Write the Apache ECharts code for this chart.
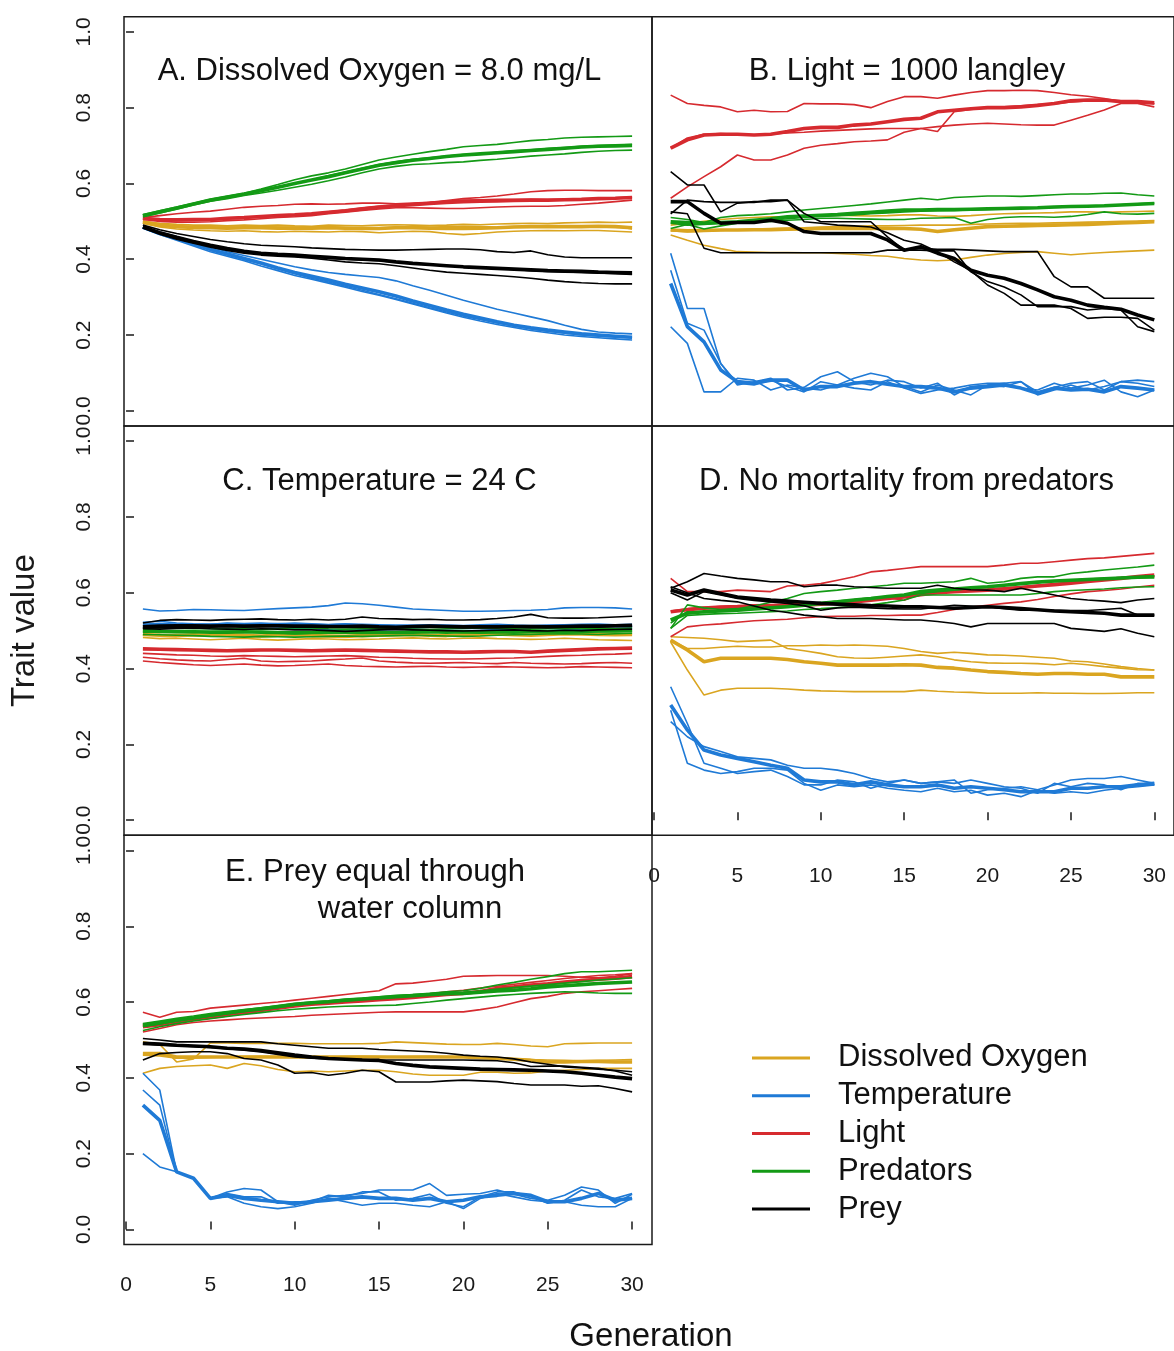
<!DOCTYPE html>
<html><head><meta charset="utf-8">
<script src="https://cdn.jsdelivr.net/npm/echarts@6/dist/echarts.min.js"></script>
<style>html,body{margin:0;padding:0;background:#fff}#c{width:1174px;height:1351px}</style>
</head><body><div id="c"></div>
<script>
// ---------------- DATA ----------------
const generations = [1,2,3,4,5,6,7,8,9,10,11,12,13,14,15,16,17,18,19,20,21,22,23,24,25,26,27,28,29,30];
const traitNames = ['Dissolved Oxygen','Temperature','Light','Predators','Prey'];
const panelTitles = ['A. Dissolved Oxygen = 8.0 mg/L','B. Light = 1000 langley','C. Temperature = 24 C','D. No mortality from predators','E. Prey equal through','water column'];
const xTickValues = [0,5,10,15,20,25,30];
const yTickValues = [0,0.2,0.4,0.6,0.8,1.0];
const xAxisTitle = 'Generation';
const yAxisTitle = 'Trait value';

// each trait array: [replicate 1, replicate 2, replicate 3, mean]
// Panel A
const A_oxygen = [
[.50,.495,.492,.49,.49,.488,.49,.489,.49,.488,.487,.49,.489,.488,.49,.491,.49,.489,.49,.492,.491,.493,.494,.495,.494,.496,.497,.498,.497,.498],
[.495,.485,.48,.477,.475,.474,.475,.473,.472,.474,.473,.472,.474,.473,.47,.472,.474,.473,.468,.465,.468,.472,.474,.475,.476,.475,.476,.476,.474,.472],
[.50,.49,.487,.485,.484,.485,.484,.486,.485,.484,.485,.486,.483,.482,.483,.485,.486,.484,.486,.487,.486,.485,.486,.487,.488,.487,.486,.488,.487,.48],
[.498,.49,.486,.484,.483,.482,.483,.483,.482,.482,.482,.483,.482,.481,.481,.483,.483,.482,.481,.481,.482,.483,.485,.486,.486,.486,.486,.487,.486,.483]];
const A_temperature = [
[.485,.472,.46,.447,.433,.42,.41,.40,.39,.38,.372,.365,.36,.356,.352,.343,.33,.318,.305,.292,.28,.268,.258,.248,.238,.226,.215,.208,.205,.203],
[.482,.465,.45,.435,.42,.408,.396,.382,.37,.357,.347,.337,.326,.315,.305,.294,.282,.27,.258,.247,.237,.228,.22,.212,.206,.20,.196,.193,.19,.187],
[.486,.468,.454,.44,.425,.413,.40,.388,.375,.362,.35,.34,.329,.318,.307,.296,.284,.272,.261,.25,.241,.232,.224,.216,.21,.205,.20,.197,.195,.192],
[.485,.468,.455,.44,.426,.414,.402,.39,.377,.365,.355,.345,.334,.324,.314,.303,.29,.278,.266,.255,.245,.235,.226,.219,.213,.208,.203,.20,.197,.194]];
const A_light = [
[.51,.515,.52,.524,.527,.532,.537,.54,.542,.545,.546,.545,.546,.548,.548,.546,.548,.55,.555,.56,.563,.567,.572,.578,.581,.582,.582,.581,.581,.581],
[.505,.50,.498,.498,.499,.502,.504,.507,.51,.512,.515,.52,.524,.529,.533,.536,.536,.535,.534,.534,.536,.538,.539,.54,.54,.542,.545,.548,.552,.556],
[.508,.504,.503,.503,.503,.506,.509,.512,.514,.516,.52,.525,.53,.535,.54,.543,.547,.55,.553,.556,.557,.558,.558,.558,.557,.558,.559,.56,.562,.564],
[.508,.505,.504,.505,.505,.508,.51,.513,.515,.517,.52,.524,.528,.533,.538,.541,.544,.547,.55,.552,.553,.554,.555,.556,.556,.557,.558,.56,.561,.563]];
const A_predators = [
[.518,.528,.538,.548,.558,.566,.574,.585,.597,.61,.62,.628,.638,.65,.662,.67,.677,.684,.69,.697,.70,.703,.708,.713,.716,.72,.722,.723,.724,.725],
[.512,.522,.532,.543,.553,.56,.568,.575,.582,.59,.598,.607,.617,.628,.638,.645,.65,.652,.655,.657,.661,.664,.668,.672,.675,.678,.682,.685,.687,.688],
[.516,.526,.536,.547,.557,.565,.573,.582,.591,.60,.61,.62,.63,.64,.65,.657,.664,.668,.672,.676,.678,.682,.686,.689,.692,.695,.698,.70,.702,.703],
[.515,.525,.535,.546,.556,.564,.572,.581,.59,.60,.609,.618,.628,.638,.648,.655,.661,.666,.671,.675,.678,.681,.684,.687,.69,.693,.696,.698,.699,.70]];
const A_prey = [
[.49,.478,.468,.46,.452,.446,.441,.437,.435,.433,.43,.428,.426,.425,.424,.424,.425,.426,.427,.427,.425,.42,.418,.422,.412,.406,.404,.404,.404,.404],
[.483,.466,.453,.442,.432,.423,.416,.411,.408,.406,.403,.398,.393,.39,.388,.383,.377,.371,.366,.363,.36,.357,.354,.35,.345,.341,.338,.336,.335,.335],
[.484,.468,.455,.444,.435,.426,.419,.414,.411,.409,.406,.403,.40,.398,.396,.392,.389,.386,.383,.38,.378,.375,.373,.37,.368,.366,.365,.364,.362,.36],
[.485,.47,.458,.447,.437,.428,.421,.416,.413,.411,.408,.405,.402,.40,.398,.393,.389,.386,.383,.38,.378,.376,.374,.372,.37,.369,.368,.366,.365,.364]];
// Panel B
const B_oxygen = [
[.49,.495,.50,.505,.508,.51,.512,.512,.513,.515,.516,.515,.514,.515,.517,.517,.514,.513,.515,.518,.52,.521,.522,.523,.525,.525,.524,.525,.526,.527],
[.464,.45,.437,.428,.42,.419,.418,.418,.417,.417,.415,.413,.41,.408,.402,.398,.396,.398,.405,.411,.415,.418,.42,.416,.412,.415,.418,.42,.422,.424],
[.475,.472,.474,.476,.478,.48,.481,.482,.483,.485,.486,.487,.488,.488,.489,.49,.49,.49,.492,.493,.494,.495,.495,.496,.497,.498,.499,.50,.501,.502],
[.477,.475,.476,.477,.477,.478,.478,.479,.48,.481,.481,.481,.481,.481,.481,.479,.473,.478,.482,.486,.487,.488,.489,.49,.491,.492,.494,.496,.497,.499]];
const B_temperature = [
[.416,.27,.27,.125,.068,.077,.086,.055,.062,.09,.103,.077,.068,.081,.077,.06,.073,.042,.064,.068,.073,.077,.05,.062,.073,.077,.055,.077,.081,.077],
[.371,.231,.213,.125,.073,.068,.081,.064,.05,.077,.068,.086,.099,.09,.064,.05,.068,.055,.042,.068,.064,.077,.042,.055,.068,.055,.064,.077,.073,.064],
[.222,.178,.05,.05,.086,.081,.055,.068,.06,.055,.068,.06,.055,.077,.06,.046,.055,.06,.068,.073,.073,.06,.055,.073,.06,.068,.081,.05,.037,.055],
[.336,.222,.182,.108,.077,.073,.081,.081,.055,.064,.064,.073,.077,.07,.064,.064,.06,.05,.06,.064,.068,.06,.046,.06,.055,.057,.05,.064,.06,.055]];
const B_light = [
[.833,.811,.806,.802,.789,.793,.789,.79,.811,.81,.81,.808,.80,.816,.829,.829,.825,.833,.84,.845,.845,.846,.845,.84,.834,.83,.824,.816,.815,.811],
[.693,.72,.73,.732,.73,.728,.73,.733,.735,.738,.74,.742,.744,.745,.745,.745,.737,.789,.795,.80,.802,.805,.808,.81,.815,.818,.82,.818,.812,.81],
[.561,.591,.618,.644,.675,.662,.662,.675,.693,.701,.705,.71,.712,.715,.735,.745,.75,.754,.757,.759,.757,.755,.754,.754,.767,.78,.794,.811,.811,.802],
[.693,.715,.728,.73,.73,.728,.73,.737,.745,.748,.748,.754,.757,.763,.769,.772,.789,.793,.797,.80,.80,.802,.806,.811,.818,.82,.82,.816,.816,.813]];
const B_predators = [
[.51,.505,.497,.51,.515,.517,.52,.525,.53,.534,.538,.542,.546,.551,.556,.561,.557,.563,.565,.567,.567,.566,.568,.57,.572,.572,.574,.575,.57,.567],
[.481,.492,.48,.488,.495,.498,.50,.503,.505,.508,.508,.507,.506,.505,.505,.508,.509,.51,.495,.505,.51,.512,.512,.511,.513,.518,.525,.52,.519,.521],
[.495,.49,.492,.495,.497,.50,.503,.507,.51,.513,.515,.517,.52,.522,.525,.527,.528,.529,.53,.532,.533,.535,.536,.537,.538,.54,.542,.544,.546,.548],
[.499,.497,.495,.497,.499,.503,.507,.512,.514,.516,.518,.521,.524,.527,.53,.53,.531,.531,.532,.533,.534,.535,.536,.538,.539,.54,.541,.543,.545,.547]];
const B_prey = [
[.631,.596,.596,.525,.548,.552,.552,.556,.521,.499,.499,.499,.499,.459,.424,.424,.422,.422,.367,.341,.327,.306,.275,.275,.275,.266,.27,.266,.222,.209],
[.525,.52,.429,.417,.417,.417,.417,.417,.417,.417,.417,.417,.417,.424,.424,.429,.426,.426,.424,.422,.42,.42,.42,.354,.327,.327,.297,.297,.297,.297],
[.52,.556,.552,.55,.55,.55,.556,.556,.499,.495,.49,.488,.485,.47,.45,.44,.42,.393,.37,.332,.31,.279,.279,.279,.27,.244,.247,.247,.244,.213],
[.552,.552,.521,.495,.497,.497,.503,.495,.473,.468,.468,.468,.468,.451,.424,.433,.416,.402,.371,.358,.35,.336,.319,.301,.292,.279,.273,.268,.253,.24]];
// Panel C
const C_oxygen = [
[.50,.497,.495,.497,.496,.494,.496,.495,.493,.495,.497,.496,.494,.493,.495,.497,.498,.496,.495,.497,.499,.498,.496,.495,.497,.499,.50,.498,.497,.499],
[.482,.479,.48,.478,.476,.478,.48,.477,.475,.477,.479,.478,.476,.477,.478,.48,.481,.479,.478,.48,.481,.479,.478,.477,.478,.48,.478,.476,.475,.474],
[.488,.49,.486,.488,.489,.491,.486,.485,.487,.49,.487,.485,.484,.486,.489,.49,.491,.489,.487,.489,.49,.493,.49,.489,.491,.493,.492,.491,.49,.491],
[.49,.488,.487,.489,.488,.49,.487,.486,.488,.489,.487,.486,.485,.487,.488,.489,.49,.488,.487,.489,.49,.491,.489,.488,.49,.492,.491,.49,.489,.49]];
const C_temperature = [
[.557,.552,.553,.556,.555,.554,.553,.556,.558,.56,.562,.566,.573,.571,.567,.562,.557,.555,.553,.551,.551,.552,.553,.554,.556,.56,.561,.561,.56,.557],
[.522,.525,.52,.518,.517,.52,.519,.52,.518,.52,.518,.516,.518,.515,.512,.513,.51,.512,.51,.508,.51,.511,.509,.508,.512,.51,.51,.512,.512,.51],
[.508,.51,.509,.507,.506,.505,.504,.505,.507,.506,.505,.503,.502,.503,.502,.503,.504,.502,.501,.50,.501,.503,.502,.501,.50,.502,.503,.505,.504,.505],
[.515,.516,.515,.514,.515,.516,.514,.515,.516,.515,.514,.513,.515,.514,.513,.512,.512,.513,.512,.511,.513,.514,.512,.511,.512,.513,.514,.515,.513,.514]];
const C_light = [
[.44,.438,.436,.435,.433,.432,.434,.433,.432,.431,.432,.433,.434,.432,.43,.429,.427,.426,.425,.425,.426,.427,.428,.43,.432,.434,.435,.437,.438,.44],
[.43,.426,.423,.421,.42,.424,.427,.42,.418,.419,.42,.423,.425,.428,.42,.417,.415,.414,.415,.416,.414,.413,.416,.414,.413,.412,.413,.415,.416,.414],
[.42,.416,.413,.41,.408,.41,.412,.409,.407,.408,.41,.412,.408,.406,.405,.404,.405,.406,.404,.403,.404,.405,.404,.403,.402,.403,.405,.404,.403,.402],
[.452,.451,.45,.449,.448,.447,.448,.449,.449,.448,.447,.448,.449,.448,.447,.446,.445,.444,.444,.443,.444,.445,.445,.443,.446,.448,.45,.452,.453,.454]];
const C_predators = [
[.507,.507,.506,.505,.505,.504,.505,.503,.505,.508,.507,.505,.504,.505,.506,.505,.504,.503,.505,.506,.507,.506,.505,.504,.505,.506,.507,.506,.505,.507],
[.49,.489,.488,.487,.485,.484,.483,.485,.484,.483,.484,.485,.486,.485,.486,.487,.488,.487,.486,.485,.486,.488,.489,.49,.491,.492,.491,.49,.492,.493],
[.495,.497,.496,.495,.497,.498,.497,.496,.494,.492,.493,.495,.497,.496,.495,.494,.496,.497,.496,.495,.494,.495,.496,.497,.498,.499,.498,.497,.498,.499],
[.50,.498,.497,.497,.496,.496,.497,.496,.495,.494,.495,.496,.496,.495,.495,.495,.496,.497,.496,.497,.496,.497,.496,.497,.497,.498,.498,.499,.499,.50]];
const C_prey = [
[.52,.527,.529,.528,.527,.529,.53,.531,.529,.528,.53,.528,.53,.536,.532,.531,.529,.53,.528,.528,.529,.532,.536,.543,.534,.533,.533,.534,.536,.538],
[.505,.504,.506,.507,.505,.504,.503,.505,.504,.502,.502,.50,.498,.50,.502,.503,.502,.501,.50,.499,.50,.501,.502,.50,.499,.501,.50,.502,.503,.504],
[.507,.508,.51,.509,.51,.511,.51,.51,.511,.512,.51,.509,.51,.509,.51,.508,.509,.51,.509,.508,.509,.51,.509,.508,.509,.51,.511,.51,.511,.512],
[.51,.512,.513,.513,.512,.513,.512,.513,.513,.512,.512,.511,.511,.512,.51,.509,.511,.512,.511,.51,.51,.51,.511,.511,.51,.511,.512,.512,.513,.514]];
// Panel D
const D_oxygen = [
[.484,.482,.48,.476,.471,.473,.475,.453,.447,.44,.431,.428,.427,.43,.433,.436,.431,.423,.418,.415,.414,.414,.413,.41,.414,.41,.405,.401,.397,.396],
[.475,.453,.453,.456,.459,.457,.457,.46,.46,.462,.461,.462,.461,.459,.453,.445,.44,.443,.44,.436,.435,.433,.43,.427,.42,.418,.412,.405,.40,.396],
[.47,.396,.33,.343,.348,.348,.348,.346,.343,.341,.34,.339,.339,.339,.339,.343,.34,.338,.337,.335,.335,.335,.336,.335,.335,.334,.334,.335,.336,.336],
[.475,.449,.418,.427,.427,.427,.427,.424,.418,.414,.409,.409,.409,.409,.41,.409,.403,.401,.396,.392,.39,.387,.385,.387,.387,.385,.385,.378,.378,.378]];
const D_temperature = [
[.352,.255,.15,.137,.123,.128,.132,.115,.093,.093,.106,.101,.084,.097,.106,.097,.101,.106,.071,.08,.084,.088,.08,.093,.106,.11,.11,.115,.106,.097],
[.29,.15,.132,.123,.128,.137,.137,.132,.097,.079,.093,.088,.093,.084,.079,.075,.084,.075,.079,.066,.071,.062,.079,.071,.075,.071,.079,.084,.088,.093],
[.26,.22,.194,.181,.167,.163,.159,.145,.137,.137,.132,.123,.11,.101,.106,.097,.101,.097,.106,.097,.088,.084,.071,.097,.088,.097,.093,.08,.097,.093],
[.304,.238,.185,.172,.163,.154,.145,.137,.106,.101,.101,.093,.101,.093,.088,.088,.093,.084,.088,.084,.08,.075,.075,.075,.084,.084,.088,.088,.093,.097]];
const D_light = [
[.638,.603,.603,.603,.607,.605,.603,.618,.62,.624,.633,.642,.655,.659,.664,.669,.669,.669,.669,.669,.673,.678,.678,.682,.686,.69,.692,.696,.70,.704],
[.484,.51,.515,.518,.522,.526,.528,.53,.534,.537,.538,.538,.54,.54,.541,.541,.548,.556,.562,.567,.572,.576,.582,.59,.597,.603,.606,.61,.615,.62],
[.552,.558,.562,.565,.566,.568,.569,.57,.572,.573,.575,.578,.582,.587,.58,.598,.602,.605,.608,.61,.613,.616,.62,.624,.628,.632,.635,.638,.64,.642],
[.55,.555,.559,.561,.562,.564,.565,.566,.567,.57,.573,.576,.58,.585,.589,.595,.60,.603,.605,.607,.61,.614,.618,.621,.625,.63,.634,.638,.643,.647]];
const D_predators = [
[.506,.568,.56,.556,.558,.565,.575,.585,.598,.603,.607,.612,.616,.62,.625,.625,.627,.629,.638,.625,.629,.638,.642,.642,.651,.655,.66,.664,.668,.673],
[.506,.54,.543,.545,.546,.548,.55,.552,.556,.558,.561,.564,.568,.574,.581,.594,.594,.594,.594,.594,.594,.594,.598,.603,.606,.608,.61,.613,.615,.616],
[.52,.55,.548,.552,.556,.558,.561,.565,.569,.573,.578,.582,.587,.59,.594,.598,.603,.607,.612,.616,.62,.624,.627,.63,.633,.636,.638,.64,.642,.645],
[.528,.546,.55,.552,.554,.557,.56,.563,.567,.572,.576,.581,.585,.59,.594,.603,.607,.61,.613,.616,.62,.624,.628,.631,.633,.635,.637,.639,.641,.642]];
const D_prey = [
[.612,.629,.651,.644,.638,.634,.629,.629,.616,.62,.62,.616,.614,.612,.612,.612,.62,.612,.608,.607,.603,.612,.603,.594,.585,.581,.578,.574,.581,.585],
[.60,.581,.603,.594,.585,.58,.576,.572,.566,.554,.56,.562,.56,.558,.557,.557,.562,.567,.565,.563,.558,.554,.554,.554,.553,.553,.556,.559,.541,.541],
[.616,.60,.585,.58,.576,.565,.554,.548,.541,.537,.532,.532,.532,.53,.528,.528,.524,.519,.51,.519,.519,.519,.519,.519,.506,.502,.498,.505,.493,.484],
[.607,.594,.607,.598,.589,.585,.581,.578,.575,.572,.57,.568,.566,.565,.563,.563,.561,.559,.561,.563,.561,.558,.555,.552,.55,.548,.546,.541,.541,.541]];
// Panel E
const E_oxygen = [
[.495,.488,.442,.45,.492,.492,.491,.491,.491,.491,.49,.49,.49,.49,.491,.495,.493,.491,.489,.488,.488,.491,.488,.484,.482,.49,.491,.492,.492,.492],
[.412,.425,.43,.432,.434,.425,.438,.432,.422,.416,.418,.416,.418,.42,.42,.416,.41,.407,.407,.407,.415,.415,.412,.413,.418,.42,.422,.425,.425,.425],
[.46,.458,.452,.452,.454,.455,.456,.457,.456,.455,.454,.455,.456,.457,.456,.455,.456,.457,.456,.455,.454,.452,.45,.448,.447,.446,.445,.446,.447,.448],
[.464,.464,.455,.455,.455,.455,.455,.455,.455,.455,.455,.455,.455,.455,.455,.455,.455,.455,.455,.455,.453,.451,.449,.446,.442,.442,.443,.443,.442,.442]];
const E_temperature = [
[.412,.368,.152,.135,.082,.099,.108,.104,.073,.064,.077,.086,.09,.095,.104,.104,.104,.121,.09,.093,.095,.104,.093,.082,.077,.09,.112,.104,.069,.093],
[.368,.328,.152,.135,.082,.095,.086,.086,.069,.073,.073,.09,.086,.099,.099,.077,.082,.093,.069,.06,.086,.099,.099,.086,.069,.077,.104,.086,.082,.095],
[.20,.165,.152,.135,.082,.086,.069,.06,.055,.06,.069,.082,.073,.064,.069,.069,.064,.06,.073,.055,.082,.095,.086,.077,.073,.073,.064,.06,.06,.082],
[.328,.288,.152,.135,.082,.09,.082,.077,.073,.069,.073,.077,.082,.086,.082,.082,.077,.082,.073,.077,.086,.09,.095,.09,.073,.073,.082,.095,.077,.082]];
const E_light = [
[.573,.56,.573,.575,.584,.588,.592,.596,.60,.605,.61,.615,.62,.625,.63,.648,.65,.655,.66,.668,.669,.67,.67,.67,.67,.668,.665,.664,.668,.675],
[.521,.53,.54,.546,.55,.553,.556,.558,.56,.562,.565,.567,.569,.571,.573,.574,.574,.574,.574,.574,.58,.587,.598,.609,.615,.623,.627,.63,.633,.636],
[.54,.545,.552,.558,.563,.568,.574,.58,.586,.592,.596,.60,.603,.606,.61,.613,.618,.622,.627,.631,.637,.642,.647,.652,.657,.662,.666,.67,.672,.675],
[.535,.54,.548,.555,.56,.566,.572,.578,.584,.59,.594,.597,.60,.603,.606,.609,.612,.616,.62,.623,.628,.636,.64,.645,.648,.653,.657,.66,.663,.667]];
const E_predators = [
[.543,.55,.557,.563,.57,.575,.58,.585,.59,.596,.60,.603,.607,.61,.614,.618,.62,.623,.627,.63,.636,.645,.652,.66,.667,.675,.68,.68,.682,.684],
[.525,.535,.543,.55,.556,.562,.567,.572,.577,.581,.584,.587,.589,.59,.591,.592,.596,.60,.605,.609,.613,.617,.62,.623,.625,.627,.626,.624,.623,.623],
[.535,.542,.55,.557,.563,.569,.575,.581,.586,.592,.596,.60,.603,.606,.61,.613,.616,.619,.622,.625,.629,.634,.638,.642,.646,.65,.654,.658,.661,.664],
[.539,.545,.552,.558,.565,.571,.577,.582,.588,.594,.598,.601,.605,.608,.611,.614,.617,.62,.622,.623,.626,.629,.631,.635,.64,.643,.646,.649,.651,.653]];
const E_prey = [
[.504,.50,.495,.495,.495,.495,.495,.495,.49,.486,.482,.478,.478,.478,.475,.473,.471,.469,.465,.46,.457,.455,.45,.442,.436,.429,.426,.423,.42,.416],
[.447,.464,.467,.469,.469,.464,.451,.447,.434,.412,.414,.407,.412,.42,.416,.389,.389,.389,.392,.394,.392,.39,.385,.381,.381,.381,.378,.379,.372,.363],
[.49,.487,.485,.483,.48,.477,.473,.468,.462,.455,.452,.45,.449,.448,.447,.447,.447,.447,.447,.447,.446,.445,.44,.43,.431,.431,.428,.425,.418,.407],
[.491,.489,.486,.484,.482,.478,.476,.472,.466,.46,.455,.451,.449,.447,.446,.438,.433,.429,.427,.425,.423,.422,.421,.42,.418,.416,.412,.407,.402,.398]];

const panelData = [
  [A_oxygen, A_temperature, A_light, A_predators, A_prey],
  [B_oxygen, B_temperature, B_light, B_predators, B_prey],
  [C_oxygen, C_temperature, C_light, C_predators, C_prey],
  [D_oxygen, D_temperature, D_light, D_predators, D_prey],
  [E_oxygen, E_temperature, E_light, E_predators, E_prey]
];

// ---------------- STYLE / LAYOUT ----------------
const traitColors = ['#DAA520','#1F7AD6','#D62A2F','#139A15','#000000'];
const FONT = '"Liberation Sans", Arial, Helvetica, sans-serif';
const PW = 528, PH = 409.3;
const panelPos = [[124,16.7],[652,16.7],[124,426],[652,426],[124,835.3]];
const showY = [true,false,true,false,true];
const showX = [false,false,false,true,true];

const grids = panelPos.map(p => ({left:p[0], top:p[1], width:PW, height:PH, show:true,
  borderColor:'#1a1a1a', borderWidth:1.5, backgroundColor:'transparent', containLabel:false}));

const xAxes = panelPos.map((p,i) => ({
  type:'value', gridIndex:i, min:-0.12, max:31.18,
  axisLine:{show:false}, splitLine:{show:false},
  axisTick:{show:showX[i], inside:true, length:8, customValues:xTickValues, lineStyle:{color:'#1a1a1a', width:1.5}},
  axisLabel:{show:showX[i], customValues:xTickValues, margin:30, fontSize:21, color:'#1a1a1a', fontFamily:FONT}
}));
const yAxes = panelPos.map((p,i) => ({
  type:'value', gridIndex:i, min:-0.04, max:1.04,
  axisLine:{show:false}, splitLine:{show:false},
  axisTick:{show:showY[i], inside:true, length:8, customValues:yTickValues, lineStyle:{color:'#1a1a1a', width:1.5}},
  axisLabel:{show:showY[i], customValues:yTickValues, rotate:90, align:'center', verticalAlign:'bottom',
    margin:29, fontSize:21, color:'#1a1a1a', fontFamily:FONT, formatter:v => v.toFixed(1)},
  name: i===2 ? yAxisTitle : '', nameLocation:'middle', nameGap:83, nameRotate:90,
  nameTextStyle:{fontSize:33, color:'#1a1a1a', fontFamily:FONT}
}));

const series = [];
panelData.forEach((traits, pi) => {
  traits.forEach((reps, ti) => {
    reps.forEach((vals, ri) => {
      const isMean = ri === reps.length - 1;
      series.push({
        type:'line', name:traitNames[ti], xAxisIndex:pi, yAxisIndex:pi,
        data: generations.map((g, k) => [g, vals[k]]),
        showSymbol:false, symbol:'none', silent:true, animation:false,
        color:traitColors[ti],
        itemStyle:{color:traitColors[ti]},
        lineStyle:{color:traitColors[ti], width: isMean ? 3.6 : 1.6},
        z: 2 + ti
      });
    });
  });
});

const titleCenters = [[379.5,71],[907,71],[379.5,481],[906.5,481],[375,872],[410,909]];
const titles = panelTitles.map((t,i) => ({
  text:t, left:titleCenters[i][0], top:titleCenters[i][1], textAlign:'center', textVerticalAlign:'middle', padding:0,
  textStyle:{fontSize:31, fontWeight:'normal', color:'#111', fontFamily:FONT}
}));
titles.push({text:xAxisTitle, left:651, top:1337, textAlign:'center', textVerticalAlign:'middle', padding:0,
  textStyle:{fontSize:33, fontWeight:'normal', color:'#111', fontFamily:FONT}});

const chart = echarts.init(document.getElementById('c'), null, {renderer:'canvas'});
chart.setOption({
  animation:false,
  backgroundColor:'#ffffff',
  title: titles,
  grid: grids,
  xAxis: xAxes,
  yAxis: yAxes,
  legend: {
    data: traitNames, left:752, top:1039, orient:'vertical', padding:0, itemGap:0,
    icon:'rect', itemWidth:58, itemHeight:3, selectedMode:false,
    textStyle:{fontSize:31, lineHeight:37.8, color:'#111', fontFamily:FONT, padding:[0,0,0,23]}
  },
  series: series
});
</script>
</body></html>
